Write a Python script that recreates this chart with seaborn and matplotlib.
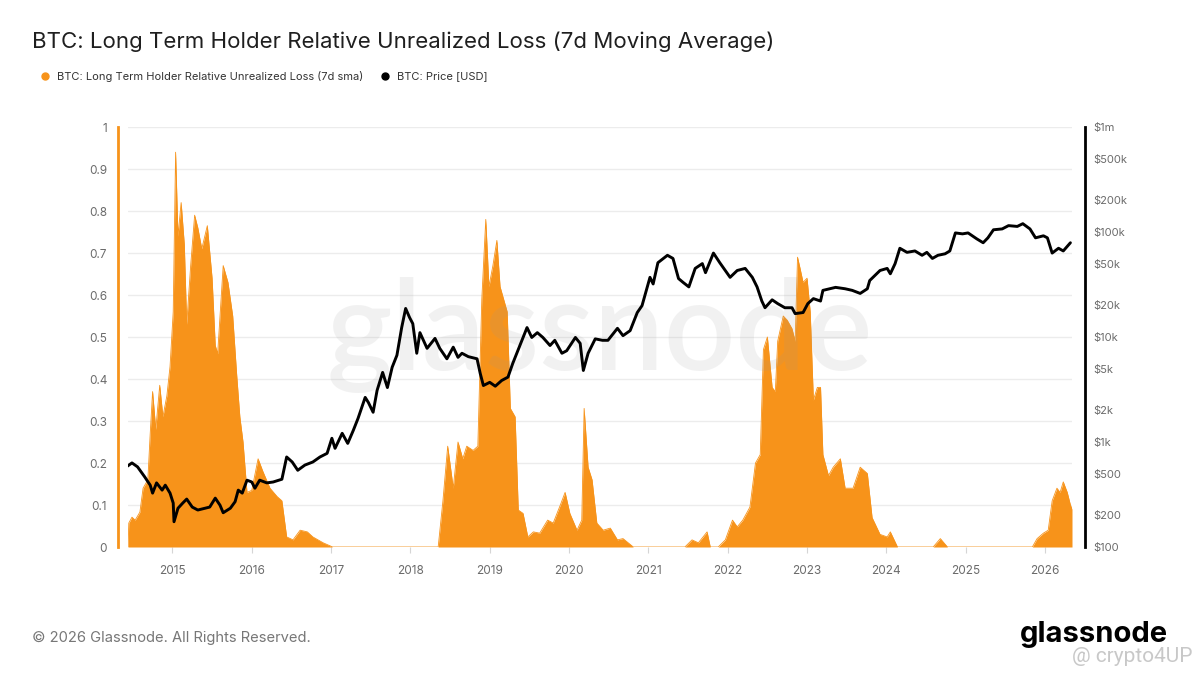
import pandas as pd
import matplotlib.pyplot as plt
import seaborn as sns
from matplotlib.lines import Line2D

# --- data (decimal year, value) ---
loss_t = [2014.44, 2014.45, 2014.49, 2014.53, 2014.59, 2014.63, 2014.69, 2014.72, 2014.75, 2014.79,
          2014.84, 2014.88, 2014.93, 2014.97, 2015.01, 2015.04, 2015.07, 2015.11, 2015.15, 2015.18,
          2015.23, 2015.28, 2015.32, 2015.37, 2015.44, 2015.50, 2015.54, 2015.57, 2015.64, 2015.70,
          2015.76, 2015.81, 2015.85, 2015.89, 2015.94, 2016.00, 2016.08, 2016.14, 2016.23, 2016.32,
          2016.38, 2016.44, 2016.52, 2016.61, 2016.70, 2016.77, 2016.90, 2017.02, 2018.35, 2018.41,
          2018.47, 2018.54, 2018.60, 2018.66, 2018.71, 2018.79, 2018.85, 2018.90, 2018.95, 2018.99,
          2019.04, 2019.09, 2019.13, 2019.22, 2019.26, 2019.32, 2019.36, 2019.42, 2019.48, 2019.55,
          2019.63, 2019.73, 2019.80, 2019.89, 2019.95, 2020.01, 2020.10, 2020.16, 2020.19, 2020.24,
          2020.29, 2020.35, 2020.43, 2020.52, 2020.61, 2020.68, 2020.81, 2021.46, 2021.55, 2021.63,
          2021.74, 2021.78, 2021.88, 2021.97, 2022.06, 2022.12, 2022.19, 2022.28, 2022.35, 2022.41,
          2022.45, 2022.50, 2022.56, 2022.60, 2022.63, 2022.70, 2022.75, 2022.81, 2022.85, 2022.88,
          2022.91, 2022.95, 2023.00, 2023.04, 2023.08, 2023.13, 2023.17, 2023.20, 2023.27, 2023.33,
          2023.42, 2023.48, 2023.58, 2023.67, 2023.76, 2023.82, 2023.92, 2024.01, 2024.05, 2024.14,
          2024.59, 2024.68, 2024.77, 2025.84, 2025.90, 2025.98, 2026.04, 2026.09, 2026.15, 2026.19,
          2026.23, 2026.28, 2026.32, 2026.34]
loss_v = [0.0, 0.057, 0.071, 0.064, 0.083, 0.14, 0.16, 0.27, 0.37, 0.28,
          0.385, 0.31, 0.36, 0.43, 0.56, 0.94, 0.74, 0.82, 0.72, 0.53,
          0.67, 0.79, 0.76, 0.71, 0.765, 0.64, 0.48, 0.46, 0.67, 0.63,
          0.55, 0.41, 0.31, 0.25, 0.13, 0.135, 0.21, 0.18, 0.14, 0.12,
          0.11, 0.024, 0.017, 0.04, 0.036, 0.024, 0.01, 0.0, 0.0, 0.11,
          0.24, 0.14, 0.25, 0.21, 0.24, 0.23, 0.24, 0.59, 0.78, 0.62,
          0.67, 0.73, 0.62, 0.56, 0.33, 0.31, 0.088, 0.08, 0.024, 0.036,
          0.033, 0.064, 0.057, 0.10, 0.13, 0.08, 0.04, 0.064, 0.33, 0.19,
          0.16, 0.057, 0.04, 0.045, 0.017, 0.02, 0.0, 0.0, 0.017, 0.01,
          0.036, 0.0, 0.0, 0.017, 0.064, 0.048, 0.064, 0.095, 0.20, 0.22,
          0.47, 0.50, 0.38, 0.37, 0.49, 0.55, 0.54, 0.52, 0.49, 0.69,
          0.665, 0.63, 0.64, 0.56, 0.35, 0.38, 0.38, 0.22, 0.17, 0.19,
          0.21, 0.14, 0.14, 0.19, 0.175, 0.07, 0.03, 0.024, 0.036, 0.0,
          0.0, 0.02, 0.0, 0.0, 0.02, 0.033, 0.04, 0.11, 0.14, 0.13,
          0.155, 0.13, 0.10, 0.09]

price_t = [2014.42, 2014.49, 2014.56, 2014.65, 2014.72, 2014.75, 2014.80, 2014.87, 2014.91, 2014.97,
           2015.01, 2015.02, 2015.07, 2015.13, 2015.18, 2015.25, 2015.32, 2015.41, 2015.47, 2015.54,
           2015.60, 2015.64, 2015.73, 2015.79, 2015.83, 2015.88, 2015.94, 2016.00, 2016.04, 2016.10,
           2016.19, 2016.27, 2016.38, 2016.44, 2016.51, 2016.58, 2016.67, 2016.77, 2016.86, 2016.95,
           2017.01, 2017.05, 2017.14, 2017.21, 2017.28, 2017.34, 2017.43, 2017.47, 2017.53, 2017.58,
           2017.65, 2017.71, 2017.77, 2017.83, 2017.89, 2017.94, 2017.99, 2018.03, 2018.08, 2018.12,
           2018.21, 2018.31, 2018.37, 2018.46, 2018.54, 2018.60, 2018.65, 2018.73, 2018.84, 2018.88,
           2018.92, 2019.00, 2019.07, 2019.15, 2019.23, 2019.29, 2019.38, 2019.47, 2019.53, 2019.60,
           2019.67, 2019.76, 2019.82, 2019.91, 2019.97, 2020.08, 2020.14, 2020.18, 2020.24, 2020.33,
           2020.42, 2020.49, 2020.61, 2020.68, 2020.77, 2020.86, 2020.92, 2020.99, 2021.02, 2021.06,
           2021.12, 2021.24, 2021.31, 2021.38, 2021.44, 2021.51, 2021.59, 2021.68, 2021.72, 2021.82,
           2021.90, 2022.03, 2022.12, 2022.22, 2022.31, 2022.37, 2022.43, 2022.47, 2022.56, 2022.63,
           2022.72, 2022.81, 2022.85, 2022.95, 2023.01, 2023.08, 2023.17, 2023.20, 2023.36, 2023.48,
           2023.57, 2023.67, 2023.76, 2023.79, 2023.92, 2024.01, 2024.05, 2024.11, 2024.17, 2024.26,
           2024.36, 2024.45, 2024.51, 2024.58, 2024.65, 2024.74, 2024.80, 2024.87, 2024.96, 2025.03,
           2025.14, 2025.22, 2025.28, 2025.35, 2025.46, 2025.54, 2025.65, 2025.72, 2025.81, 2025.88,
           2025.98, 2026.03, 2026.09, 2026.17, 2026.23, 2026.32]
price_usd = [580, 632, 580, 466, 388, 326, 408, 348, 388, 326,
             262, 174, 234, 262, 286, 240, 225, 234, 240, 292,
             250, 212, 234, 270, 348, 326, 433, 416, 363, 433,
             408, 416, 442, 720, 645, 538, 603, 645, 720, 780,
             1085, 870, 1210, 970, 1290, 1680, 2660, 2380, 1920, 3100,
             4600, 3300, 5150, 6700, 12300, 18700, 15300, 13400, 7000, 11000,
             7800, 9700, 7800, 6200, 8000, 6400, 7000, 6500, 6200, 4500,
             3450, 3700, 3400, 3850, 4150, 5600, 8300, 12300, 9900, 11000,
             9900, 8300, 9300, 7000, 7400, 9900, 8700, 4800, 7000, 9600,
             9300, 9300, 12100, 10300, 11500, 17100, 19900, 30600, 37000, 32000,
             51000, 60000, 56000, 36000, 33000, 30000, 45000, 50000, 41000, 63000,
             51000, 37000, 43000, 45000, 37000, 30000, 22000, 19000, 22600, 20800,
             19000, 19000, 16700, 17100, 20800, 23200, 22000, 27800, 29700, 28800,
             27800, 26000, 28800, 34500, 43000, 45000, 40000, 50000, 70000, 64000,
             66000, 60000, 64000, 56000, 60000, 62000, 66000, 98000, 96000, 98000,
             86000, 79000, 88000, 105000, 107000, 115000, 113000, 120000, 107000, 88000,
             92000, 88000, 63000, 70000, 66000, 79000]

year_ticks = list(range(2015, 2027))
loss_ticks = [0, 0.1, 0.2, 0.3, 0.4, 0.5, 0.6, 0.7, 0.8, 0.9, 1]
loss_labels = ['0', '0.1', '0.2', '0.3', '0.4', '0.5', '0.6', '0.7', '0.8', '0.9', '1']
price_ticks = [100, 200, 500, 1e3, 2e3, 5e3, 1e4, 2e4, 5e4, 1e5, 2e5, 5e5, 1e6]
price_labels = ['$100', '$200', '$500', '$1k', '$2k', '$5k', '$10k', '$20k', '$50k',
                '$100k', '$200k', '$500k', '$1m']

ORANGE = '#F7931A'
GREY = '#6b6b6b'

loss_df = pd.DataFrame({'t': loss_t, 'loss': loss_v})
price_df = pd.DataFrame({'t': price_t, 'price': price_usd})

sns.set_theme(style="white")
plt.rcParams['font.family'] = ['Inter', 'DejaVu Sans']

fig = plt.figure(figsize=(12, 6.75), dpi=100)
ax = fig.add_axes([128 / 1200, 1 - 547 / 675, 944 / 1200, 420 / 675])

# orange area for LTH relative unrealized loss
ax.fill_between(loss_df['t'], loss_df['loss'], 0, color=ORANGE, lw=0, zorder=2)
sns.lineplot(data=loss_df, x='t', y='loss', ax=ax, color=ORANGE, lw=0.6, zorder=2, sort=False)

ax.set_xlim(2014.44, 2026.34)
ax.set_ylim(0, 1)
ax.set_yticks(loss_ticks)
ax.set_yticklabels(loss_labels)
ax.set_xticks(year_ticks)
ax.set_xticklabels([str(y) for y in year_ticks])
ax.set_xlabel('')
ax.set_ylabel('')
ax.yaxis.grid(True, color='#ececec', lw=1)
ax.set_axisbelow(True)
ax.tick_params(axis='y', length=0, pad=8, labelsize=8.5, labelcolor=GREY)
ax.tick_params(axis='x', length=4, width=0.8, color='#d5d5d5', pad=9, labelsize=8.5,
               labelcolor=GREY, bottom=True)
for s in ['top', 'right', 'bottom']:
    ax.spines[s].set_visible(False)
ax.spines['left'].set_position(('outward', 7))
ax.spines['left'].set_color(ORANGE)
ax.spines['left'].set_linewidth(2)

# watermark
ax.text(0.5, 0.421, 'glassnode', transform=ax.transAxes, ha='center', va='baseline',
        fontsize=90, fontweight='semibold', color='#9a9a9a', alpha=0.13,
        family=['Lato', 'DejaVu Sans'], zorder=3)

# price on log scale
ax2 = ax.twinx()
sns.lineplot(data=price_df, x='t', y='price', ax=ax2, color='black', lw=2.1, zorder=4)
ax2.set_yscale('log')
ax2.set_ylim(100, 1e6)
ax2.set_yticks(price_ticks)
ax2.set_yticklabels(price_labels)
ax2.minorticks_off()
ax2.set_ylabel('')
ax2.tick_params(axis='y', length=0, pad=6, labelsize=8, labelcolor=GREY)
for s in ['top', 'left', 'bottom']:
    ax2.spines[s].set_visible(False)
ax2.spines['right'].set_position(('outward', 9))
ax2.spines['right'].set_color('black')
ax2.spines['right'].set_linewidth(2)

# title and legend
fig.text(32 / 1200, 1 - 42 / 675, 'BTC: Long Term Holder Relative Unrealized Loss (7d Moving Average)',
         fontsize=16, color='#1f1f1f', va='center', ha='left')
handles = [Line2D([], [], marker='o', ls='', color=ORANGE, markersize=5),
           Line2D([], [], marker='o', ls='', color='black', markersize=5)]
fig.legend(handles, ['BTC: Long Term Holder Relative Unrealized Loss (7d sma)', 'BTC: Price [USD]'],
           loc='center left', bbox_to_anchor=(24 / 1200, 1 - 76 / 675), ncol=2, frameon=False,
           fontsize=8, handletextpad=0.1, columnspacing=0.9, labelcolor='#333333')

# footer
fig.text(32 / 1200, 1 - 638 / 675, '\u00a9 2026 Glassnode. All Rights Reserved.',
         fontsize=10.6, color='#777777', va='center', ha='left')
fig.text(1168 / 1200, 1 - 634 / 675, 'glassnode', fontsize=21, fontweight='bold',
         color='black', va='center', ha='right')
fig.text(1192 / 1200, 1 - 657 / 675, '@ crypto4UP', fontsize=15, color='#bbbbbb',
         alpha=0.8, va='center', ha='right', family=['Roboto', 'DejaVu Sans'])

plt.savefig('out.png', dpi=100)
plt.close(fig)
